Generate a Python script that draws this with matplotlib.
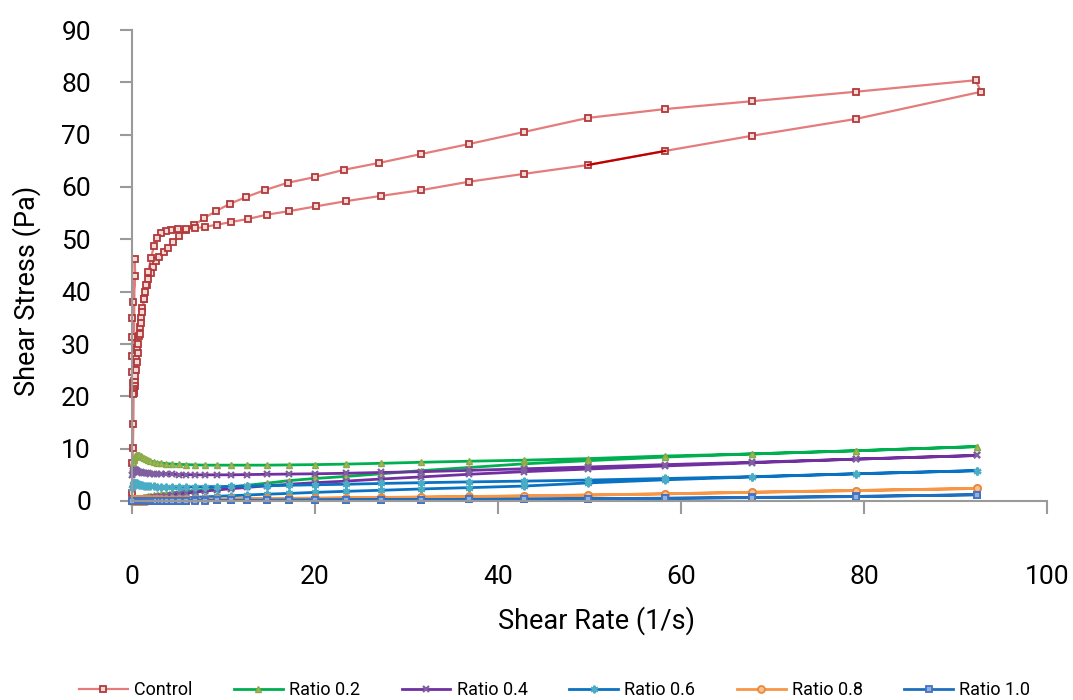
import matplotlib
matplotlib.use("Agg")
import matplotlib.pyplot as plt

plt.rcParams['font.family'] = ['Roboto', 'DejaVu Sans']

# Control: up ramp then down ramp (shear rate 1/s, shear stress Pa)
control_rate_up = [0.02, 0.05, 0.10, 0.15, 0.29, 0.36, 0.07, 0.03, 0.01, 0.03,
                   0.05, 0.08, 0.12, 0.18, 0.25, 0.35, 0.47, 0.60, 0.75, 0.87,
                   1.00, 1.13, 1.27, 1.42, 1.60, 1.80, 2.05, 2.33, 2.62, 3.00,
                   3.45, 3.95, 4.50, 5.10, 5.90, 6.80, 7.90, 9.20, 10.7, 12.5,
                   14.5, 17.0, 20.0, 23.2, 27.0, 31.6, 36.8, 42.8, 49.8, 58.3,
                   67.8, 79.1, 92.2]
control_stress_up = [1.5, 7.3, 10.2, 14.8, 46.2, 43.0, 38.1, 34.9, 31.4, 27.7,
                     24.7, 22.5, 21.0, 21.5, 23.0, 25.0, 27.2, 29.3, 31.5, 33.3,
                     34.9, 36.8, 38.6, 40.0, 41.3, 42.5, 43.6, 44.7, 45.9, 46.6,
                     47.5, 48.4, 49.4, 50.7, 51.7, 52.7, 54.1, 55.4, 56.8, 58.1,
                     59.4, 60.8, 61.9, 63.3, 64.6, 66.3, 68.2, 70.5, 73.2, 74.9,
                     76.4, 78.2, 80.4]
control_rate_down = [92.8, 79.1, 67.8, 58.3, 49.8, 42.8, 36.8, 31.6, 27.2, 23.4,
                     20.1, 17.2, 14.7, 12.7, 10.8, 9.3, 8.0, 6.9, 5.9, 5.0,
                     4.3, 3.7, 3.2, 2.77, 2.40, 2.07, 1.78, 1.53, 1.32, 1.13,
                     0.97, 0.83, 0.71, 0.61, 0.52, 0.45, 0.38, 0.33, 0.28, 0.24,
                     0.20, 0.17, 0.15]
control_stress_down = [78.2, 73.0, 69.8, 66.9, 64.2, 62.5, 61.0, 59.4, 58.3, 57.3,
                       56.3, 55.4, 54.7, 53.9, 53.3, 52.8, 52.4, 52.1, 52.0, 51.9,
                       51.7, 51.6, 51.3, 50.2, 48.7, 46.4, 43.8, 41.3, 38.6, 36.2,
                       34.0, 32.0, 30.0, 28.2, 26.5, 25.0, 23.8, 22.8, 22.0, 21.4,
                       21.0, 20.7, 20.5]

# shear rate ramp used for the blends (ascending)
ramp_up = [0.05, 0.10, 0.15, 0.20, 0.23, 0.27, 0.32, 0.37, 0.44, 0.51,
           0.59, 0.69, 0.80, 0.93, 1.09, 1.27, 1.48, 1.72, 2.00, 2.35,
           2.75, 3.20, 3.70, 4.40, 5.10, 5.90, 6.90, 8.00, 9.30, 10.8,
           12.6, 14.7, 17.2, 20.0, 23.4, 27.2, 31.6, 36.8, 42.8, 49.8,
           58.3, 67.8, 79.1, 92.4]
ramp_down = ramp_up[::-1]

r02_up = [6.0, 6.8, 7.4, 7.8, 8.1, 8.3, 8.5, 8.6, 8.7, 8.8,
          8.8, 8.8, 8.7, 8.6, 8.4, 8.2, 8.0, 7.8, 7.6, 7.5,
          7.35, 7.25, 7.15, 7.05, 7.0, 6.95, 6.9, 6.85, 6.85, 6.85,
          6.85, 6.85, 6.9, 6.95, 7.05, 7.2, 7.4, 7.6, 7.8, 8.1,
          8.6, 9.0, 9.6, 10.4]
r02_down = [10.4, 9.6, 9.0, 8.4, 7.7, 7.1, 6.4, 5.8, 5.2, 4.7,
            4.3, 3.9, 3.4, 3.0, 2.7, 2.4, 2.2, 2.0, 1.85, 1.7,
            1.55, 1.4, 1.3, 1.2, 1.1, 1.0, 0.9, 0.8, 0.7, 0.6,
            0.5, 0.42, 0.35, 0.3, 0.25, 0.2, 0.17, 0.14, 0.12, 0.1,
            0.08, 0.06, 0.05, 0.04]

r04_up = [5.0, 5.4, 5.7, 5.85, 5.9, 5.95, 5.95, 5.9, 5.85, 5.8,
          5.7, 5.6, 5.5, 5.45, 5.4, 5.35, 5.3, 5.3, 5.25, 5.2,
          5.2, 5.15, 5.1, 5.1, 5.05, 5.05, 5.0, 5.0, 5.0, 5.0,
          5.05, 5.1, 5.15, 5.2, 5.3, 5.45, 5.6, 5.85, 6.15, 6.5,
          6.95, 7.4, 8.0, 8.7]
r04_down = [8.7, 8.0, 7.3, 6.7, 6.1, 5.6, 5.1, 4.6, 4.2, 3.8,
            3.5, 3.2, 2.9, 2.6, 2.35, 2.1, 1.9, 1.7, 1.5, 1.35,
            1.2, 1.05, 0.95, 0.85, 0.75, 0.65, 0.55, 0.5, 0.42, 0.36,
            0.3, 0.26, 0.22, 0.18, 0.15, 0.13, 0.11, 0.09, 0.08, 0.07,
            0.06, 0.05, 0.04, 0.03]

r06_up = [2.4, 2.9, 3.2, 3.35, 3.4, 3.45, 3.45, 3.45, 3.4, 3.35,
          3.3, 3.2, 3.15, 3.1, 3.0, 2.95, 2.9, 2.85, 2.8, 2.8,
          2.75, 2.75, 2.7, 2.7, 2.7, 2.7, 2.7, 2.75, 2.75, 2.8,
          2.85, 2.9, 3.0, 3.1, 3.2, 3.35, 3.5, 3.65, 3.8, 4.0,
          4.3, 4.65, 5.2, 5.8]
r06_down = [5.8, 5.2, 4.6, 4.05, 3.45, 2.85, 2.55, 2.3, 2.05, 1.85,
            1.65, 1.45, 1.3, 1.15, 1.0, 0.9, 0.8, 0.7, 0.62, 0.55,
            0.48, 0.42, 0.37, 0.32, 0.28, 0.24, 0.21, 0.18, 0.16, 0.14,
            0.12, 0.1, 0.09, 0.08, 0.07, 0.06, 0.05, 0.05, 0.04, 0.04,
            0.03, 0.03, 0.02, 0.02]

r08_up = [0.2, 0.25, 0.28, 0.3, 0.3, 0.3, 0.3, 0.3, 0.3, 0.3,
          0.3, 0.3, 0.3, 0.3, 0.3, 0.3, 0.3, 0.3, 0.3, 0.3,
          0.3, 0.3, 0.3, 0.3, 0.32, 0.34, 0.36, 0.38, 0.4, 0.42,
          0.45, 0.48, 0.52, 0.56, 0.62, 0.68, 0.76, 0.86, 0.98, 1.15,
          1.38, 1.68, 2.0, 2.4]
r08_down = [2.4, 2.0, 1.66, 1.36, 1.12, 0.94, 0.82, 0.72, 0.63, 0.55,
            0.5, 0.45, 0.4, 0.36, 0.32, 0.29, 0.26, 0.23, 0.21, 0.19,
            0.17, 0.15, 0.14, 0.13, 0.12, 0.11, 0.1, 0.09, 0.08, 0.08,
            0.07, 0.07, 0.06, 0.06, 0.05, 0.05, 0.05, 0.04, 0.04, 0.04,
            0.03, 0.03, 0.03, 0.02]

r10_up = [0.03, 0.04, 0.04, 0.05, 0.05, 0.05, 0.05, 0.05, 0.05, 0.05,
          0.05, 0.05, 0.05, 0.05, 0.05, 0.06, 0.06, 0.06, 0.06, 0.07,
          0.07, 0.07, 0.08, 0.08, 0.09, 0.09, 0.1, 0.11, 0.12, 0.13,
          0.14, 0.16, 0.18, 0.2, 0.22, 0.25, 0.28, 0.32, 0.37, 0.44,
          0.54, 0.68, 0.88, 1.2]
r10_down = [1.2, 0.85, 0.64, 0.5, 0.41, 0.34, 0.29, 0.25, 0.22, 0.19,
            0.17, 0.15, 0.13, 0.12, 0.11, 0.1, 0.09, 0.08, 0.07, 0.07,
            0.06, 0.06, 0.05, 0.05, 0.05, 0.04, 0.04, 0.04, 0.04, 0.03,
            0.03, 0.03, 0.03, 0.03, 0.02, 0.02, 0.02, 0.02, 0.02, 0.02,
            0.02, 0.02, 0.02, 0.02]

labels = ["Control", "Ratio 0.2", "Ratio 0.4", "Ratio 0.6", "Ratio 0.8", "Ratio 1.0"]

fig = plt.figure(figsize=(10.73, 7.0), dpi=100)
ax = fig.add_axes([132 / 1073, 199 / 700, 915 / 1073, 471 / 700])

ctl_x = control_rate_up + control_rate_down
ctl_y = control_stress_up + control_stress_down
ax.plot(ctl_x, ctl_y, color='#E47C7C', lw=1.6, marker='s', ms=5,
        mfc='#F6DADA', mec='#B0393B', mew=1.3, label=labels[0], clip_on=False)
# one highlighted segment on the down ramp
i = len(control_rate_up) + 3
ax.plot(ctl_x[i:i + 2], ctl_y[i:i + 2], color='#C00000', lw=1.6, clip_on=False)

ramp = ramp_up + ramp_down
styles = [
    (r02_up + r02_down, dict(color='#00B050', marker='^', ms=4.5, mfc='#9BBB59', mec='#8AAA48', mew=1.0)),
    (r04_up + r04_down, dict(color='#7030A0', marker='x', ms=4.5, mec='#7F5F9F', mew=1.6)),
    (r06_up + r06_down, dict(color='#0A72C2', marker=(6, 2, 0), ms=5.5, mec='#4BACC6', mew=1.6)),
    (r08_up + r08_down, dict(color='#F79646', marker='o', ms=5, mfc='#FAC090', mec='#E98A3C', mew=1.3)),
    (r10_up + r10_down, dict(color='#1F6FBE', marker='s', ms=5, mfc='#95B3D7', mec='#4472C4', mew=1.3)),
]
for (vals, st), lab in zip(styles, labels[1:]):
    ax.plot(ramp, vals, lw=2.0, label=lab, clip_on=False, **st)

ax.set_xlim(0, 100)
ax.set_ylim(0, 90)
ax.set_xticks(range(0, 101, 20))
ax.set_yticks(range(0, 91, 10))

for s in ['top', 'right']:
    ax.spines[s].set_visible(False)
for s in ['left', 'bottom']:
    ax.spines[s].set_color('#9A9A9A')
    ax.spines[s].set_linewidth(1.5)
ax.tick_params(axis='y', direction='out', length=8.6, width=1.5, color='#9A9A9A',
               pad=21, labelsize=19, labelcolor='black')
ax.tick_params(axis='x', direction='out', length=9, width=1.5, color='#9A9A9A',
               pad=37, labelsize=19, labelcolor='black')

ax.set_xlabel("Shear Rate (1/s)", fontsize=19.5, color='black')
ax.set_ylabel("Shear Stress (Pa)", fontsize=19.5, color='black')
ax.xaxis.set_label_coords(0.508, -0.224)
ax.yaxis.set_label_coords(-0.099, 0.446)

leg = fig.legend(loc='lower center', bbox_to_anchor=(0.517, -0.022), ncol=6, frameon=False,
                 handlelength=2.7, handletextpad=0.35, columnspacing=2.3, numpoints=1,
                 prop={'family': ['Roboto', 'DejaVu Sans'], 'size': 13})
for t in leg.get_texts():
    t.set_color('black')

plt.savefig("out.png", dpi=100)
